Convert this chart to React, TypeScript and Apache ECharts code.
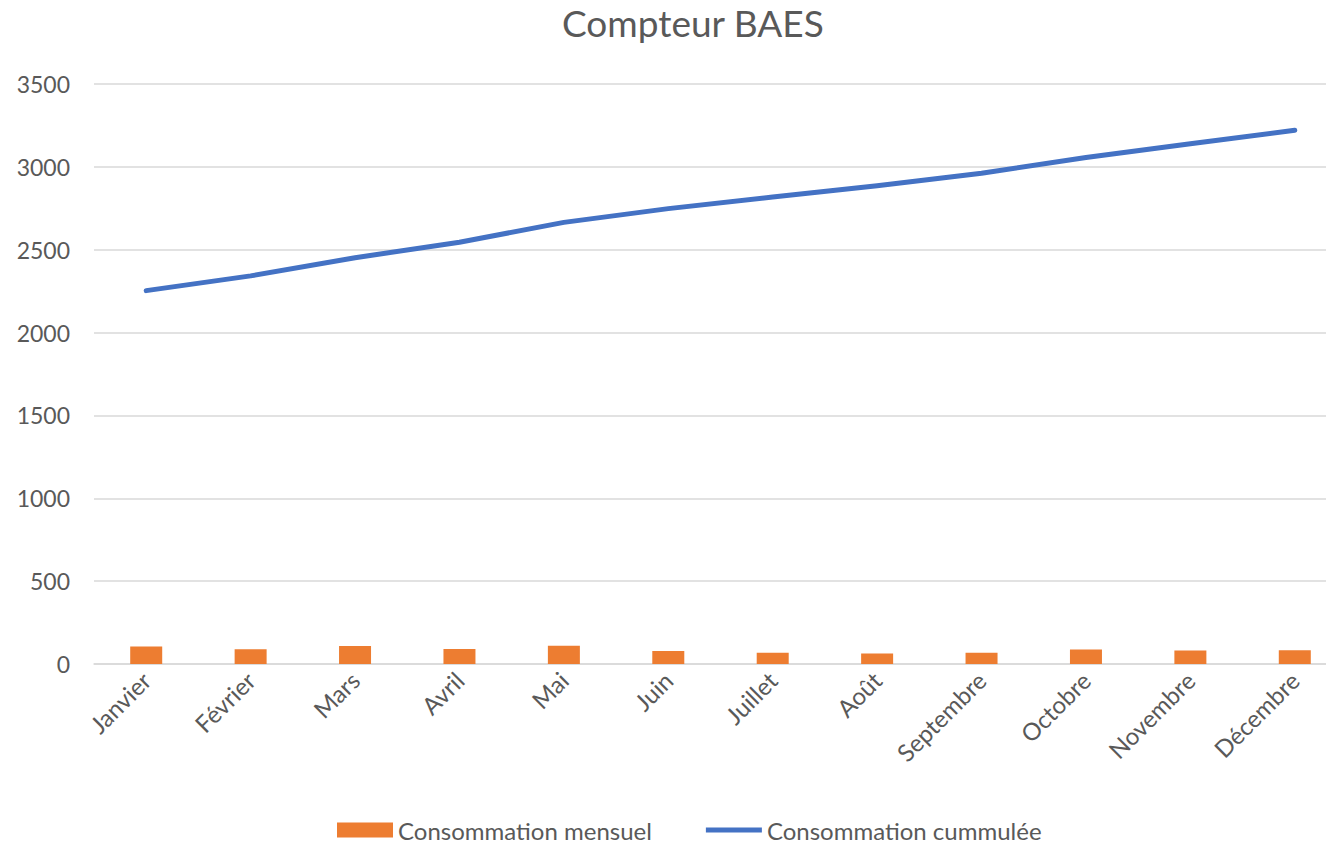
import React, { useEffect, useRef } from "react";
import * as echarts from "echarts";

const months = ["Janvier", "Février", "Mars", "Avril", "Mai", "Juin", "Juillet", "Août", "Septembre", "Octobre", "Novembre", "Décembre"];
const monthly = [106, 89, 108, 90, 110, 79, 68, 64, 68, 87, 81, 83];
const cumulative = [2253, 2342, 2452, 2545, 2665, 2748, 2818, 2886, 2962, 3056, 3140, 3221];
const yMin = 0;
const yMax = 3500;
const yInterval = 500;

const FONT = "Lato, 'Open Sans', sans-serif";
const TEXT = "#595959";

export default function App() {
  const ref = useRef<HTMLDivElement>(null);
  useEffect(() => {
    if (!ref.current) return;
    const chart = echarts.init(ref.current, undefined, { renderer: "svg" });
    chart.setOption({
      animation: false,
      backgroundColor: "#ffffff",
      textStyle: { fontFamily: FONT, color: TEXT },
      title: {
        text: "Compteur BAES",
        left: 557,
        top: -1,
        textStyle: { fontFamily: FONT, fontSize: 37, fontWeight: "normal", color: TEXT },
      },
      legend: {
        left: 332,
        top: 812,
        itemWidth: 56,
        itemHeight: 15,
        itemGap: 54,
        textStyle: { fontFamily: FONT, fontSize: 24, color: TEXT, lineHeight: 26 },
        data: [
          { name: "Consommation mensuel", icon: "rect" },
          { name: "Consommation cummulée", icon: "path://M0,0 L56,0 L56,5 L0,5 Z" },
        ],
      },
      grid: { left: 94, top: 84, width: 1253, height: 580, outerBoundsMode: "none" },
      xAxis: {
        type: "category",
        data: months,
        boundaryGap: true,
        axisLine: { show: true, lineStyle: { color: "#d9d9d9", width: 1.5 } },
        axisTick: { show: false },
        axisLabel: { rotate: 45, margin: 12, fontFamily: FONT, fontSize: 24, color: TEXT, interval: 0 },
      },
      yAxis: {
        type: "value",
        min: yMin,
        max: yMax,
        interval: yInterval,
        axisLine: { show: false },
        axisTick: { show: false },
        splitLine: { lineStyle: { color: "#d9d9d9", width: 1.5 } },
        axisLabel: { margin: 24, fontFamily: FONT, fontSize: 23, color: TEXT, formatter: (v: number) => String(v) },
      },
      series: [
        {
          name: "Consommation mensuel",
          type: "bar",
          data: monthly,
          barWidth: 32,
          itemStyle: { color: "#ED7D31" },
        },
        {
          name: "Consommation cummulée",
          type: "line",
          data: cumulative,
          symbol: "none",
          showSymbol: false,
          lineStyle: { color: "#4472C4", width: 5, cap: "round", join: "round" },
          itemStyle: { color: "#4472C4" },
        },
      ],
    });
    return () => chart.dispose();
  }, []);
  return (
    <div style={{ position: "fixed", left: 0, top: 0, width: 1326, height: 844, overflow: "hidden", background: "#fff" }}>
      <div ref={ref} style={{ width: 1360, height: 844 }} />
    </div>
  );
}
